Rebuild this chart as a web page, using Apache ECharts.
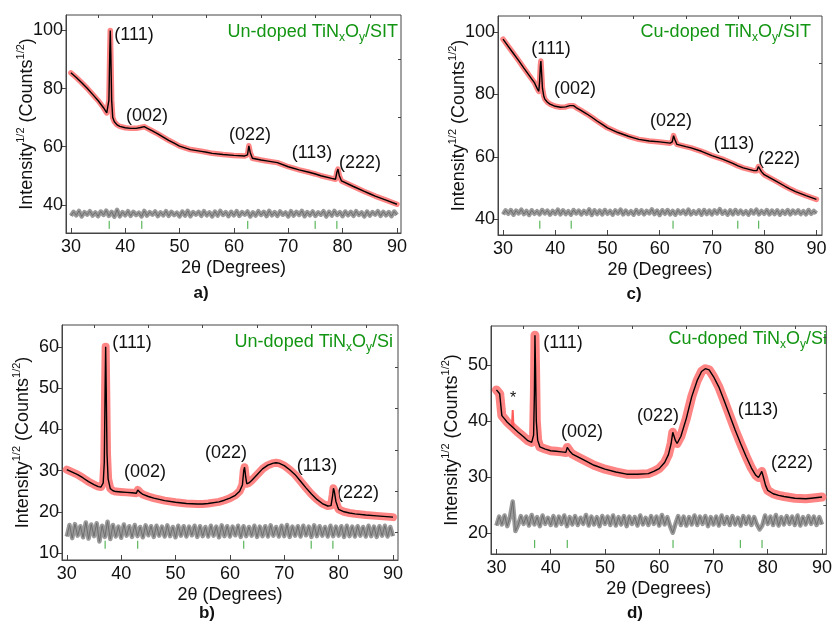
<!DOCTYPE html>
<html>
<head>
<meta charset="utf-8">
<script src="https://cdn.jsdelivr.net/npm/echarts@6/dist/echarts.min.js"></script>
<style>html,body{margin:0;padding:0;background:#fff}#c{width:835px;height:624px}</style>
</head>
<body>
<div id="c"></div>
<script>
// ---------------- DATA ----------------
const xTickLabels = [30, 40, 50, 60, 70, 80, 90];
const xMinorTicks = [35, 45, 55, 65, 75, 85];
const yTicksA = [40, 60, 80, 100], yMinorA = [50, 70, 90];
const yTicksC = [40, 60, 80, 100], yMinorC = [50, 70, 90];
const yTicksB = [10, 20, 30, 40, 50, 60], yMinorB = [15, 25, 35, 45, 55];
const yTicksD = [20, 30, 40, 50], yMinorD = [25, 35, 45, 55];
const peakNames = ['(111)', '(002)', '(022)', '(113)', '(222)'];
const braggPositions = [37.05, 43.05, 62.55, 74.95, 78.95];

// Rietveld fit (calculated profile), [2theta, sqrt(I)]
const fitA = [[30,85.4],[31,83.8],[32,82.0],[33,80.1],[34,78.0],[35,75.9],[36,73.4],[36.6,71.6],[36.85,71.0],[37.0,76],[37.15,92],[37.25,100],[37.35,92],[37.5,76],[37.7,70.0],[38,68.6],[38.5,67.5],[39,67.0],[40,66.5],[41,66.3],[42,66.3],[42.8,66.6],[43.1,67.2],[43.5,66.9],[44,66.4],[45,65.4],[46,64.4],[47,63.3],[48,62.2],[49,61.2],[50,60.2],[52,59.0],[54,58.4],[55,58.1],[56,57.7],[58,57.3],[60,57.0],[62,56.8],[62.5,57.2],[62.75,60.3],[63.0,58.0],[63.4,56.0],[65,55.4],[66,55.1],[68,54.5],[70,53.1],[72,52.0],[74,51.1],[75,50.6],[76,50.0],[78,49.1],[78.7,48.8],[78.95,51.2],[79.15,52.3],[79.4,50.0],[79.8,48.2],[80,47.8],[82,46.3],[84,44.6],[85,43.8],[86,43.0],[88,41.6],[90,40.2]];
const fitC = [[30,97.7],[31,95.4],[32,93.1],[33,90.8],[34,88.4],[35,86.1],[36,83.8],[36.6,81.7],[36.85,81.0],[37.0,84],[37.15,89],[37.25,90.7],[37.35,88],[37.55,82],[37.8,79.5],[38,78.5],[38.5,77.5],[39,76.9],[40,76.2],[41,75.9],[42,76.0],[42.8,76.4],[43.1,76.8],[43.5,76.4],[44,75.8],[45,74.8],[46,73.8],[47,72.7],[48,71.5],[49,70.4],[50,69.3],[52,67.8],[54,66.6],[55,66.1],[56,65.6],[58,65.1],[60,64.8],[62,64.4],[62.4,64.8],[62.65,66.8],[62.9,65.6],[63.3,64.0],[65,63.3],[66,62.9],[68,61.8],[70,60.4],[72,59.3],[74,57.9],[75,57.1],[76,56.5],[78,55.6],[78.6,55.6],[78.9,56.9],[79.1,56.6],[79.5,55.2],[80,54.3],[82,52.5],[84,50.6],[85,49.7],[86,48.9],[88,47.6],[90,46.4]];
const fitB = [[30,30.2],[31,29.6],[32,29.0],[33,28.2],[34,27.3],[35,26.6],[35.8,26.1],[36.3,26.0],[36.7,27.0],[36.9,32],[37.05,50],[37.15,60],[37.25,50],[37.4,34],[37.6,28],[38,25.6],[38.5,25.1],[39,24.9],[40,24.8],[41,24.7],[42,24.6],[42.8,24.5],[43.05,25.3],[43.2,25.5],[43.5,24.7],[44,24.2],[45,23.7],[46,23.3],[48,22.7],[50,22.3],[52,22.0],[54,21.9],[55,21.9],[56,22.0],[58,22.4],[59,22.8],[60,23.3],[61,24.0],[61.8,25.0],[62.3,26.5],[62.55,30],[62.7,30.8],[62.9,28.5],[63.1,26.8],[63.5,27.0],[64,27.6],[65,29.0],[66,30.4],[67,31.3],[68,31.8],[68.5,31.9],[69,31.8],[70,31.2],[71,30.2],[72,29.0],[73,27.4],[74,25.8],[75,24.3],[76,23.0],[77,22.0],[78,21.4],[78.6,21.5],[78.9,24],[79.05,25.7],[79.2,25],[79.5,22.5],[79.8,21.3],[80,20.6],[81,20.0],[82,19.7],[83,19.5],[85,19.2],[87,19.0],[90,18.7]];
const fitD = [[30,45.6],[30.6,44.9],[31,41.0],[31.5,40.4],[32,39.8],[33,38.9],[34,38.0],[35,37.2],[35.8,36.5],[36.5,36.2],[36.85,37.5],[37.0,45],[37.1,55.4],[37.2,50],[37.35,40],[37.6,36.6],[38,35.4],[39,35.0],[40,34.7],[41,34.6],[42,34.5],[42.8,34.4],[43.05,35.3],[43.2,35.5],[43.6,34.5],[44,34.1],[45,33.6],[46,33.1],[48,32.1],[50,31.4],[52,30.9],[54,30.5],[55,30.5],[56,30.5],[58,30.6],[59,31.0],[60,31.5],[61,32.6],[61.7,34.0],[62.2,36.0],[62.5,38.0],[62.7,37.8],[63.0,36.5],[63.3,36.0],[64,37.3],[65,40.5],[66,44.4],[67,47.3],[67.8,48.9],[68.5,49.4],[69.2,49.2],[70,48.0],[71,46.1],[72,43.6],[73,41.0],[74,38.4],[75,36.0],[76,33.7],[77,31.6],[77.8,30.3],[78.3,29.9],[78.7,30.6],[78.9,31.0],[79.2,30.0],[79.6,28.5],[80,27.6],[81,27.0],[82,26.7],[83,26.5],[85,26.2],[87,26.1],[88,26.2],[90,26.4]];
// impurity reflection (*) seen in the observed data of panel d
const starPeakD = [[32.85,38.9],[33.0,42.0],[33.15,38.8]];

// difference curves (obs - calc, offset), sampled every 0.5 deg
const diffAngles = [30,30.5,31,31.5,32,32.5,33,33.5,34,34.5,35,35.5,36,36.5,37,37.5,38,38.5,39,39.5,40,40.5,41,41.5,42,42.5,43,43.5,44,44.5,45,45.5,46,46.5,47,47.5,48,48.5,49,49.5,50,50.5,51,51.5,52,52.5,53,53.5,54,54.5,55,55.5,56,56.5,57,57.5,58,58.5,59,59.5,60,60.5,61,61.5,62,62.5,63,63.5,64,64.5,65,65.5,66,66.5,67,67.5,68,68.5,69,69.5,70,70.5,71,71.5,72,72.5,73,73.5,74,74.5,75,75.5,76,76.5,77,77.5,78,78.5,79,79.5,80,80.5,81,81.5,82,82.5,83,83.5,84,84.5,85,85.5,86,86.5,87,87.5,88,88.5,89,89.5,90];
const diffA = [36.2,37.6,36.4,37.9,36.0,37.5,36.6,37.8,36.3,37.4,
36.1,37.7,36.5,38.0,36.2,37.6,35.9,38.3,36.0,37.5,
36.4,37.8,36.2,37.6,36.5,37.3,36.0,37.9,36.3,37.5,
36.6,37.7,36.1,37.4,36.4,37.8,36.2,37.6,36.5,37.3,
36.0,37.7,36.3,37.9,36.1,37.5,36.6,37.6,36.2,37.8,
36.4,37.4,36.0,37.7,36.3,37.9,36.5,37.5,36.1,37.6,
36.4,37.8,36.2,37.5,36.6,37.7,36.0,37.4,36.3,37.8,
36.5,37.6,36.1,37.9,36.4,37.5,36.2,37.7,36.6,37.4,
36.0,37.8,36.3,37.6,36.5,37.9,36.1,37.5,36.4,37.7,
36.2,37.4,36.6,37.8,36.0,37.6,36.3,37.9,36.5,37.5,
36.1,37.7,36.4,37.6,36.2,37.8,36.5,37.4,36.0,37.7,
36.3,37.5,36.6,37.8,36.2,37.6,36.4,37.5,36.1,37.7,
36.5];
const diffC = [41.6,42.9,41.8,43.0,41.5,42.8,41.9,43.1,41.7,42.7,
41.4,42.9,41.8,42.6,41.6,43.0,41.9,42.8,41.5,42.7,
41.8,43.1,41.6,42.9,41.7,42.6,41.5,43.0,41.9,42.8,
41.6,42.7,41.8,43.2,41.4,42.9,41.7,42.8,41.6,43.0,
41.8,42.7,41.5,42.9,41.9,43.1,41.6,42.8,41.7,42.6,
41.5,43.0,41.8,42.9,41.6,42.7,41.9,43.2,41.7,42.8,
41.4,42.9,41.8,43.0,41.6,42.7,41.5,42.9,41.9,42.8,
41.7,43.1,41.6,42.6,41.8,42.9,41.5,43.0,41.7,42.8,
41.6,42.9,41.9,43.3,41.8,42.7,41.5,42.9,41.6,43.0,
41.8,42.8,41.7,42.6,41.5,42.9,41.9,43.1,41.6,42.7,
41.8,43.0,41.6,42.8,41.7,42.9,41.5,42.7,41.8,43.0,
41.6,42.8,41.9,42.9,41.7,42.6,41.6,43.0,41.8,42.7,
41.9];
const diffB = [14.0,16.8,13.6,17.0,14.2,16.5,13.8,17.4,13.5,16.9,
14.1,17.2,12.8,16.6,13.9,17.6,13.4,16.8,14.0,16.4,
13.7,16.9,14.2,16.5,13.9,16.8,14.1,16.3,13.8,16.7,
14.3,16.5,13.9,16.6,14.2,16.4,14.0,16.7,14.1,16.3,
13.8,16.6,14.2,16.5,14.0,16.4,14.3,16.6,13.9,16.5,
14.1,16.3,14.0,16.6,14.2,16.4,13.8,16.7,14.1,16.5,
14.0,16.4,14.3,16.6,13.9,16.5,14.1,16.3,14.2,16.6,
13.9,16.4,14.1,16.5,14.0,16.7,14.2,16.3,14.0,16.6,
14.1,16.8,13.9,16.4,14.2,16.5,14.0,16.6,14.3,16.4,
13.9,16.7,14.1,16.5,14.2,16.3,14.0,16.6,14.1,16.4,
14.2,16.5,13.9,16.6,14.1,16.4,14.0,16.5,14.2,16.3,
14.0,16.6,14.1,16.4,13.9,16.5,14.2,16.6,14.0,16.3,
14.1];
const diffD = [21.3,22.9,21.5,23.1,21.2,22.8,25.6,20.3,21.4,23.0,
21.6,22.9,21.3,23.2,21.5,22.8,21.2,23.1,21.6,22.7,
21.4,23.0,21.3,22.9,21.6,23.1,21.2,22.8,21.5,23.0,
21.4,22.7,21.6,23.2,21.3,22.9,21.5,22.8,21.2,23.0,
21.6,22.9,21.4,23.1,21.3,22.8,21.5,23.0,21.2,22.9,
21.6,22.8,21.3,23.1,21.5,22.7,21.4,23.0,21.6,22.9,
21.3,23.2,21.5,22.8,21.2,20.0,21.6,23.0,21.4,22.9,
21.3,22.8,21.5,23.1,21.4,22.9,21.6,23.0,21.2,22.8,
21.5,22.9,21.3,23.1,21.6,22.8,21.4,23.0,21.5,22.7,
21.3,23.0,21.6,22.9,21.4,22.8,21.5,20.6,21.3,23.1,
21.6,22.9,21.4,23.2,21.3,22.8,21.5,23.0,21.6,22.9,
21.4,23.1,21.3,22.8,21.5,23.0,21.6,22.9,21.4,22.8,
21.5];

// ---------------- LAYOUT / STYLE ----------------
const FONT = '"Liberation Sans", Arial, Helvetica, sans-serif';
const GREEN = '#129512';
const FS = 18;
const RICH_AXIS = {
  n: {fontSize: FS, fontFamily: FONT, color: '#111', lineHeight: 24},
  sup: {fontSize: 11, fontFamily: FONT, color: '#111', lineHeight: 11, verticalAlign: 'top'}
};
const RICH_TITLE = {
  g: {fontSize: FS, fontFamily: FONT, fill: GREEN, lineHeight: 24},
  sub: {fontSize: 12, fontFamily: FONT, fill: GREEN, lineHeight: 12, verticalAlign: 'bottom'}
};

const panels = [
  {grid: {left: 66, top: 15, width: 335, height: 218}, x: [29.1, 90.75], y: [30.3, 105.3],
   yTicks: yTicksA, yMinor: yMinorA, fit: fitA, diff: diffA, braggLevel: 33.1, band: 5.5,
   title: '{g|Un-doped TiN}{sub|x}{g|O}{sub|y}{g|/SIT}', titlePos: [398, 32],
   tag: 'a)', tagPos: [201, 293],
   peakPos: [[134, 35], [147, 116], [250, 135], [312, 153], [360, 163]]},
  {grid: {left: 498, top: 16, width: 324, height: 219}, x: [29.04, 91.07], y: [35.0, 105.1],
   yTicks: yTicksC, yMinor: yMinorC, fit: fitC, diff: diffC, braggLevel: 38.3, band: 5.5,
   title: '{g|Cu-doped TiN}{sub|x}{g|O}{sub|y}{g|/SIT}', titlePos: [811, 32],
   tag: 'c)', tagPos: [634, 294],
   peakPos: [[551, 49], [575, 89], [671, 121], [734, 144], [779, 159]]},
  {grid: {left: 62, top: 325, width: 336, height: 235}, x: [29.12, 90.92], y: [8.3, 65.3],
   yTicks: yTicksB, yMinor: yMinorB, fit: fitB, diff: diffB, braggLevel: 12.0, band: 8,
   title: '{g|Un-doped TiN}{sub|x}{g|O}{sub|y}{g|/Si}', titlePos: [393, 342],
   tag: 'b)', tagPos: [207, 613],
   peakPos: [[132, 343], [145, 472], [226, 453], [317, 466], [358, 493]]},
  {grid: {left: 491, top: 326, width: 342, height: 228}, x: [29.0, 90.8], y: [16.2, 57.05],
   yTicks: yTicksD, yMinor: yMinorD, fit: fitD, diff: diffD, braggLevel: 18.0, band: 9,
   title: '{g|Cu-doped TiN}{sub|x}{g|O}{sub|y}{g|/Si}', titlePos: [827, 339],
   tag: 'd)', tagPos: [635, 613],
   peakPos: [[563, 343], [582, 432], [658, 416], [758, 410], [792, 463]],
   extra: starPeakD, starPos: [513, 399]}
];

const option = {animation: false, backgroundColor: '#fff', grid: [], xAxis: [], yAxis: [], series: [], graphic: []};

panels.forEach((p, i) => {
  option.grid.push(Object.assign({show: true, borderColor: '#444', borderWidth: 1, backgroundColor: 'transparent'}, p.grid));
  const xi = option.xAxis.length, yi = option.yAxis.length;
  option.xAxis.push({
    gridIndex: i, type: 'value', min: p.x[0], max: p.x[1],
    axisLine: {show: true, lineStyle: {color: '#444', width: 1}},
    axisTick: {show: true, inside: true, length: 5, customValues: xTickLabels, lineStyle: {color: '#444'}},
    axisLabel: {customValues: xTickLabels, fontSize: FS, fontFamily: FONT, color: '#111', margin: 5},
    splitLine: {show: false},
    name: '2θ (Degrees)', nameLocation: 'middle', nameGap: 26, nameMoveOverlap: false,
    nameTextStyle: {fontSize: FS, fontFamily: FONT, color: '#111'}
  });
  option.xAxis.push({
    gridIndex: i, type: 'value', min: p.x[0], max: p.x[1],
    axisLine: {show: false},
    axisTick: {show: true, inside: true, length: 3, customValues: xMinorTicks, lineStyle: {color: '#444'}},
    axisLabel: {show: false}, splitLine: {show: false}
  });
  option.yAxis.push({
    gridIndex: i, type: 'value', min: p.y[0], max: p.y[1],
    axisLine: {show: true, lineStyle: {color: '#444', width: 1}},
    axisTick: {show: true, inside: false, length: 4, customValues: p.yTicks, lineStyle: {color: '#444'}},
    axisLabel: {customValues: p.yTicks, fontSize: FS, fontFamily: FONT, color: '#111', margin: 3},
    splitLine: {show: false},
    name: '{n|Intensity}{sup|1/2}{n| (Counts}{sup|1/2}{n|)}', nameLocation: 'middle', nameGap: 27, nameRotate: 90,
    nameMoveOverlap: false,
    nameTextStyle: {fontSize: FS, fontFamily: FONT, color: '#111', rich: RICH_AXIS}
  });
  option.yAxis.push({
    gridIndex: i, type: 'value', min: p.y[0], max: p.y[1],
    axisLine: {show: false},
    axisTick: {show: true, inside: true, length: 3, customValues: p.yMinor, lineStyle: {color: '#444'}},
    axisLabel: {show: false}, splitLine: {show: false}
  });

  const diffData = p.diff.map((v, k) => [diffAngles[k], v]);
  // observed data band (red)
  option.series.push({type: 'line', xAxisIndex: xi, yAxisIndex: yi, data: p.fit, showSymbol: false, silent: true, z: 1,
    lineStyle: {color: '#ff8585', width: p.band, join: 'round', cap: 'round'}});
  if (p.extra) {
    option.series.push({type: 'line', xAxisIndex: xi, yAxisIndex: yi, data: p.extra, showSymbol: false, silent: true, z: 1,
      lineStyle: {color: '#ff5a5a', width: 2}});
  }
  // difference curve: solid band + darker thin trace
  option.series.push({type: 'line', xAxisIndex: xi, yAxisIndex: yi, data: diffData, showSymbol: false, silent: true, z: 2,
    lineStyle: {color: '#9a9a9a', width: 4.5, join: 'round'}});
  option.series.push({type: 'line', xAxisIndex: xi, yAxisIndex: yi, data: diffData, showSymbol: false, silent: true, z: 2,
    lineStyle: {color: '#6e6e6e', width: 1}});
  // calculated profile
  option.series.push({type: 'line', xAxisIndex: xi, yAxisIndex: yi, data: p.fit, showSymbol: false, silent: true, z: 3,
    lineStyle: {color: '#000', width: 1.4}});
  // Bragg positions
  option.series.push({type: 'custom', xAxisIndex: xi, yAxisIndex: yi, silent: true, z: 3,
    data: braggPositions.map(b => [b, p.braggLevel]),
    renderItem: (params, api) => {
      const c = api.coord([api.value(0), api.value(1)]);
      return {type: 'line', shape: {x1: c[0], y1: c[1] - 4, x2: c[0], y2: c[1] + 4}, style: {stroke: '#3aa83a', lineWidth: 1}};
    }});

  // texts
  option.graphic.push({type: 'text', x: p.titlePos[0], y: p.titlePos[1],
    style: {text: p.title, rich: RICH_TITLE, fill: GREEN, fontSize: FS, align: 'right', verticalAlign: 'middle', fontFamily: FONT}});
  option.graphic.push({type: 'text', x: p.tagPos[0], y: p.tagPos[1],
    style: {text: p.tag, fontSize: 17, fontWeight: 'bold', fontFamily: FONT, fill: '#111', align: 'center', verticalAlign: 'middle'}});
  peakNames.forEach((nm, k) => {
    option.graphic.push({type: 'text', x: p.peakPos[k][0], y: p.peakPos[k][1],
      style: {text: nm, fontSize: FS, fontFamily: FONT, fill: '#111', align: 'center', verticalAlign: 'middle'}});
  });
  if (p.starPos) {
    option.graphic.push({type: 'text', x: p.starPos[0], y: p.starPos[1],
      style: {text: '*', fontSize: 16, fontFamily: FONT, fill: '#111', align: 'center', verticalAlign: 'middle'}});
  }
});

const chart = echarts.init(document.getElementById('c'), null, {renderer: 'canvas'});
chart.setOption(option);
</script>
</body>
</html>
